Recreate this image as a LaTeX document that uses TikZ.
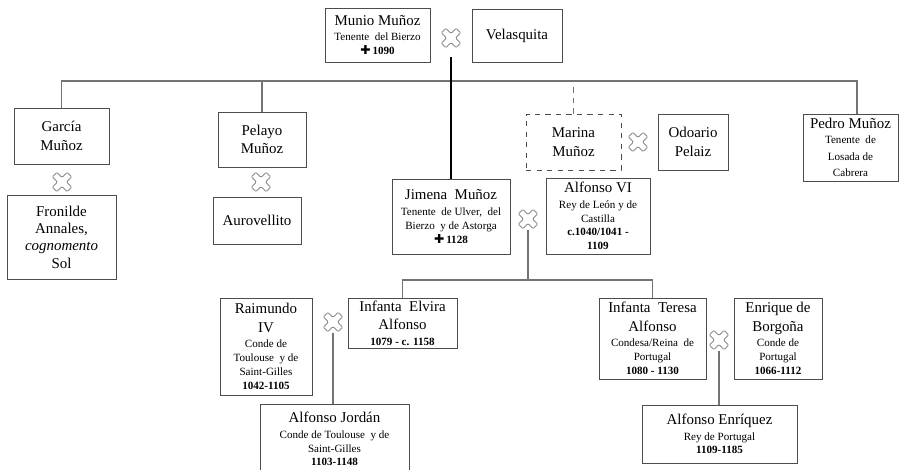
\documentclass[tikz,border=0pt]{standalone}
\usepackage{fontspec}
\setmainfont{Liberation Serif}
\newfontfamily\symfont{DejaVu Sans}
\newcommand\nm{\fontsize{8.5}{10.6}\selectfont}
\newcommand\dt{\fontsize{6.3}{7.9}\selectfont}
\newcommand\dead{{\symfont\fontsize{7}{7}\selectfont ✚}}

\begin{document}
\begin{tikzpicture}[x=0.02cm,y=-0.02cm]
    \tikzset{person/.style= {draw=black!70,
                             rectangle,
                             align=center,
                             font=\dt,
                             inner sep=1pt},
             guess/.style=  {person,
                             dashed},
             wed/.style=    {fill=white,
                             minimum size=0.42cm,
                             inner sep=0pt,
                             path picture={\draw[black!45,line width=0.5pt,rounded corners=0.6pt,
                                 shift={(path picture bounding box.center)}]
                                 (0cm,0.092cm) -- (-0.1025cm,0.1945cm) -- (-0.1945cm,0.1025cm)
                                 -- (-0.092cm,0cm) -- (-0.1945cm,-0.1025cm) -- (-0.1025cm,-0.1945cm)
                                 -- (0cm,-0.092cm) -- (0.1025cm,-0.1945cm) -- (0.1945cm,-0.1025cm)
                                 -- (0.092cm,0cm) -- (0.1945cm,0.1025cm) -- (0.1025cm,0.1945cm)
                                 -- cycle;}},
             link/.style=   {draw=black!55,
                             line width=0.6pt},
            }
    \useasboundingbox (0,0) rectangle (900,470);
    \path
    (377.5,35)  node[person,minimum width=2.10cm,minimum height=1.08cm](mun) {\nm Munio Muñoz\\[1pt] Tenente\ \ del Bierzo\\ \bfseries\dead\,1090}
    (517,35.5)  node[person,minimum width=1.80cm,minimum height=1.06cm](vel) {\nm Velasquita}
    (451,38)    node[wed,minimum height=0.76cm](w1) {}
    (61.5,136)  node[person,minimum width=1.90cm,minimum height=1.12cm](gar) {\nm García\\[2.5pt] \nm Muñoz}
    (62,182)    node[wed](w2) {}
    (61.5,237)  node[person,minimum width=2.18cm,minimum height=1.68cm](fro) {\nm Fronilde\\[2pt] \nm Annales,\\[2pt] \nm\textit{cognomento}\\[2pt] \nm Sol}
    (262,139.5) node[person,minimum width=1.76cm,minimum height=1.10cm](pel) {\nm Pelayo\\[2.5pt] \nm Muñoz}
    (261,182)   node[wed](w3) {}
    (257,220.5) node[person,minimum width=1.76cm,minimum height=0.94cm](aur) {\nm Aurovellito}
    (573.5,142) node[guess,minimum width=1.90cm,minimum height=1.12cm](mar) {\nm Marina\\[2.5pt] \nm Muñoz}
    (638,142)   node[wed](w7) {}
    (693,142)   node[person,minimum width=1.40cm,minimum height=1.12cm](odo) {\nm Odoario\\[2.5pt] \nm Pelaiz}
    (850.5,147.5) node[person,minimum width=1.90cm,minimum height=1.34cm](ped) {\nm Pedro Muñoz\\[1pt] Tenente\ \ de\\[1.5pt] Losada de\\[1.5pt] Cabrera}
    (451,216.5) node[person,minimum width=2.36cm,minimum height=1.50cm](jim) {\nm Jimena\ \ Muñoz\\[1pt] Tenente\ \ de Ulver,\ \ del\\ Bierzo\ \ y de Astorga\\ \bfseries\dead\,1128}
    (528,219)   node[wed](w4) {}
    (598,216)   node[person,minimum width=2.08cm,minimum height=1.52cm](alf) {\nm Alfonso VI\\[1pt] Rey de León y de\\ Castilla\\ \bfseries c.1040/1041 -\\ \bfseries 1109}
    (402.5,323) node[person,minimum width=2.18cm,minimum height=1.00cm](elv) {\nm Infanta\ \ Elvira\\[2.5pt] \nm Alfonso\\[1pt] \bfseries 1079 - c. 1158}
    (266,346.5) node[person,minimum width=1.84cm,minimum height=1.94cm](rai) {\nm Raimundo\\[2.5pt] \nm IV\\[1pt] Conde de\\ Toulouse\ \ y de\\ Saint-Gilles\\ \bfseries 1042-1105}
    (333,322)   node[wed](w5) {}
    (334.5,439) node[person,minimum width=2.98cm,minimum height=1.40cm](jor) {\nm Alfonso Jordán\\[1pt] Conde de Toulouse\ \ y de\\ Saint-Gilles\\ \bfseries 1103-1148}
    (652.5,338.5) node[person,minimum width=2.14cm,minimum height=1.62cm](ter) {\nm Infanta\ \ Teresa\\[2.5pt] \nm Alfonso\\[1pt] Condesa/Reina\ \ de\\ Portugal\\ \bfseries 1080 - 1130}
    (778,338.5) node[person,minimum width=1.76cm,minimum height=1.62cm](enr) {\nm Enrique de\\[2.5pt] \nm Borgoña\\[1pt] Conde de\\ Portugal\\ \bfseries 1066-1112}
    (719,340)   node[wed](w6) {}
    (719.5,434) node[person,minimum width=3.10cm,minimum height=1.16cm](enq) {\nm Alfonso Enríquez\\[1pt] Rey de Portugal\\ \bfseries 1109-1185}
    ;
    \coordinate (bar)    at (451,81);
    \coordinate (pedtop) at (857,114);
    \coordinate (kids)   at (528,280);
    \draw[link]           (gar.north) |- (bar) -| (pedtop);
    \draw[link]           (pel.north) -- (pel.north |- bar);
    \draw[link,dashed]    (mar.north) -- (mar.north |- bar);
    \draw[line width=1pt] (w1.south) -- (jim.north);
    \draw[link]           (w4.south) -- (kids);
    \draw[link]           (elv.north) |- (kids) -| (ter.north);
    \draw[link]           (w5.south) -- (w5.south |- jor.north);
    \draw[link]           (w6.south) -- (w6.south |- enq.north);
\end{tikzpicture}
\end{document}
